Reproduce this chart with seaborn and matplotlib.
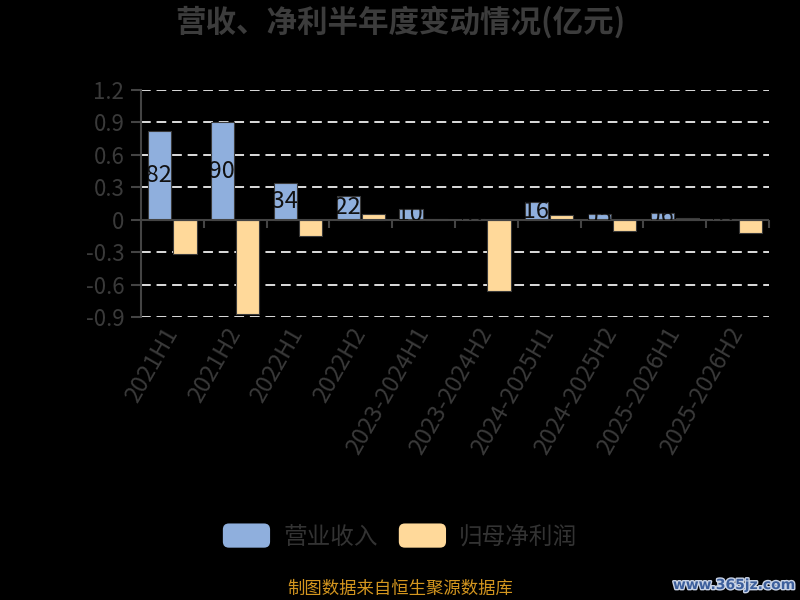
import numpy as np
import pandas as pd
import matplotlib
matplotlib.use("Agg")
import matplotlib.pyplot as plt
import seaborn as sns
from matplotlib.patches import Rectangle, FancyBboxPatch
from matplotlib.legend_handler import HandlerPatch
import matplotlib.patheffects as pe

periods = ["2021H1", "2021H2", "2022H1", "2022H2", "2023-2024H1", "2023-2024H2",
           "2024-2025H1", "2024-2025H2", "2025-2026H1", "2025-2026H2"]
revenue = [0.82, 0.90, 0.34, 0.22, 0.10, 0.01, 0.16, 0.05, 0.06, 0.01]
net_profit = [-0.32, -0.87, -0.15, 0.05, 0.003, -0.66, 0.04, -0.10, 0.02, -0.12]
series_names = ["营业收入", "归母净利润"]
colors = ["#8FAFDD", "#FFD99A"]
yticks = [-0.9, -0.6, -0.3, 0, 0.3, 0.6, 0.9, 1.2]

df = pd.DataFrame({
    "period": periods * 2,
    "value": revenue + net_profit,
    "series": [series_names[0]] * len(periods) + [series_names[1]] * len(periods),
})

sns.set_style("dark")
plt.rcParams["font.family"] = ["Noto Sans CJK SC", "DejaVu Sans"]

fig = plt.figure(figsize=(8, 6), dpi=100, facecolor="black")
ax = fig.add_axes([141 / 800, 1 - 317 / 600, (769 - 141) / 800, (317 - 90) / 600])
ax.set_facecolor("black")

sns.barplot(data=df, x="period", y="value", hue="series", palette=colors,
            order=periods, hue_order=series_names, width=0.8, gap=0.08,
            saturation=1, edgecolor="#3a3a3a", linewidth=0.8, ax=ax,
            legend=True, zorder=3)

ax.set_xlim(-0.5, len(periods) - 0.5)
ax.set_ylim(-0.9, 1.2)

# grid
for v in yticks:
    if v != 0:
        ax.axhline(v, color="#dddddd", lw=1.4, ls=(0, (5, 3)), zorder=1)
ax.axhline(0, color="#444444", lw=1.5, zorder=4)

for s in ["top", "right", "bottom"]:
    ax.spines[s].set_visible(False)
ax.spines["left"].set_color("#444444")
ax.spines["left"].set_linewidth(1.5)

ax.set_yticks(yticks)
ax.set_yticklabels([f"{v:g}" for v in yticks])
ax.tick_params(axis="y", colors="#444444", length=7, width=1.5, pad=5,
               labelsize=16, labelcolor="#3a3a3a", left=True)
ax.set_xticks(range(len(periods)))
ax.set_xticklabels(periods, rotation=60, ha="right", rotation_mode="anchor",
                   va="center")
ax.tick_params(axis="x", length=0, pad=9, labelsize=17, labelcolor="#3a3a3a")
ax.set_xlabel("")
ax.set_ylabel("")
ax.grid(False)

# tick marks on the zero line between categories
sec = ax.secondary_xaxis(0.9 / 2.1)
sec.set_xticks(np.arange(-0.5, len(periods), 1.0))
sec.set_xticklabels([])
sec.tick_params(length=6, width=1.5, colors="#444444", direction="out")
sec.spines["bottom"].set_visible(False)

# labels inside the revenue bars (clipped by the bar)
rev_bars = ax.containers[0]
for bar, v in zip(rev_bars, revenue):
    x_right = bar.get_x() + bar.get_width() + 0.02
    t = ax.text(x_right, bar.get_height() / 2, f"{v:.2f}", ha="right", va="center",
                fontsize=17, color="#111111", zorder=5, clip_on=True)
    t.set_clip_path(bar)

# legend with rounded boxes
class RoundBox(HandlerPatch):
    def create_artists(self, legend, orig_handle, xdescent, ydescent, width, height,
                       fontsize, trans):
        p = FancyBboxPatch((-xdescent, -ydescent), width, height,
                           boxstyle=f"round,pad=0,rounding_size={height * 0.25}",
                           facecolor=orig_handle.get_facecolor(), edgecolor="none",
                           transform=trans)
        return [p]

handles, labels = ax.get_legend_handles_labels()
ax.get_legend().remove()
fig.legend(handles, labels, loc="center", bbox_to_anchor=(0.5, 1 - 536 / 600), ncol=2,
           frameon=False, fontsize=17, labelcolor="#333333", handlelength=2.0,
           handleheight=1.2, handletextpad=0.55, columnspacing=0.9,
           handler_map={Rectangle: RoundBox()})

fig.text(0.5, 1 - 22 / 600, "营收、净利半年度变动情况(亿元)", ha="center", va="center",
         fontsize=22, fontweight="bold", color="#3c3c3c")
fig.text(400 / 800, 1 - 589 / 600, "制图数据来自恒生聚源数据库", ha="center", va="center",
         fontsize=12.5, color="#d4961f")
fig.text(734 / 800, 1 - 585 / 600, "www.365jz.com", ha="center", va="center",
         fontsize=10, fontweight="bold", color="#3d5f9c", family="DejaVu Sans",
         path_effects=[pe.withStroke(linewidth=2, foreground="#c9d3e6")])

fig.savefig("out.png", dpi=100, facecolor="black")
